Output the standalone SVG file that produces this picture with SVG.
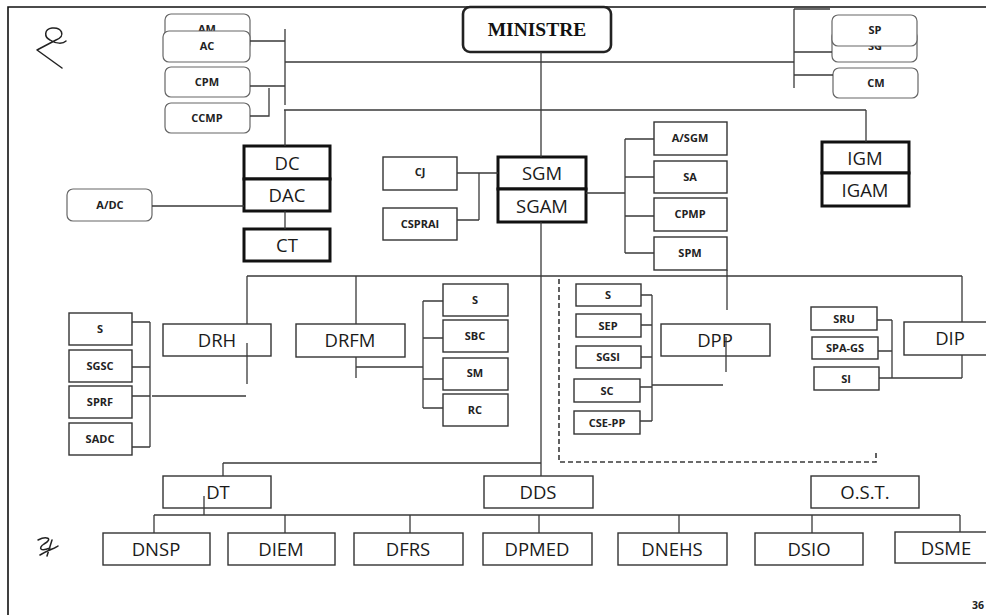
<svg xmlns="http://www.w3.org/2000/svg" width="986" height="615" viewBox="0 0 986 615">
<style>
.frame{fill:none;stroke:#111;stroke-width:1.6}
.c{fill:none;stroke:#3a3a3a;stroke-width:1.3}
.d{fill:none;stroke:#3a3a3a;stroke-width:1.6;stroke-dasharray:5,3}
.b{fill:#fff;stroke:#333;stroke-width:1.4}
.t{fill:#fff;stroke:#111;stroke-width:3}
.r{fill:#fff;stroke:#666;stroke-width:1.2}
.m{fill:#fff;stroke:#222;stroke-width:2.6}
.s{font-family:"Open Sans","Liberation Sans",sans-serif;font-weight:bold;font-size:11px;fill:#222;text-anchor:middle}
.L{font-family:"Open Sans","Liberation Sans",sans-serif;font-size:18.5px;fill:#1a1a1a;text-anchor:middle}
.sig{fill:none;stroke:#222;stroke-width:1.5;stroke-linecap:round;stroke-linejoin:round}
</style>
<rect x="0" y="0" width="986" height="615" fill="#fff"/>
<path class="frame" d="M8,615 V7 H986"/>
<path class="sig" d="M62,68 L37,50 L56,40 C66,36 62,27 52,28 C44,29 44,37 50,40 C56,44 63,44 66,41"/>
<path class="sig" d="M38,540 C46,536 54,538 44,544 C38,548 40,552 50,548 M40,555 C48,550 56,548 58,546 M52,540 L47,556"/>

<g id="ministre"><rect class="m" x="463" y="7" width="148" height="45" rx="7"/><text x="537" y="36" font-family="'Liberation Serif',serif" font-weight="bold" font-size="19.5" text-anchor="middle" fill="#111">MINISTRE</text></g>

<g id="AM"><rect class="r" x="165" y="14" width="85" height="36" rx="6"/><text class="s" x="207" y="33">AM</text></g>
<g id="AC"><rect class="r" x="163" y="31" width="87" height="31" rx="6"/><text class="s" x="207" y="50">AC</text></g>
<g id="CPM"><rect class="r" x="165" y="67" width="85" height="30" rx="6"/><text class="s" x="207" y="86">CPM</text></g>
<g id="CCMP"><rect class="r" x="165" y="103" width="85" height="30" rx="6"/><text class="s" x="207" y="122">CCMP</text></g>

<g id="SG"><rect class="r" x="832" y="30" width="85" height="32" rx="6"/><text class="s" x="875" y="49.5">SG</text></g>
<g id="SP"><rect class="r" x="832" y="15" width="85" height="31" rx="6"/><text class="s" x="875" y="34">SP</text></g>
<g id="CM"><rect class="r" x="833" y="68" width="85" height="30" rx="6"/><text class="s" x="876" y="87">CM</text></g>

<g id="DC"><rect class="t" x="244" y="146" width="86" height="33"/><text class="L" x="287" y="170">DC</text></g>
<g id="DAC"><rect class="t" x="244" y="179" width="86" height="32"/><text class="L" x="287" y="202">DAC</text></g>
<g id="CT"><rect class="t" x="244" y="229" width="86" height="32"/><text class="L" x="287" y="252">CT</text></g>
<g id="ADC"><rect class="r" x="67" y="189" width="85" height="32" rx="6"/><text class="s" x="110" y="209">A/DC</text></g>

<g id="CJ"><rect class="b" x="383" y="157" width="74" height="33"/><text class="s" x="420" y="176">CJ</text></g>
<g id="CSPRAI"><rect class="b" x="383" y="208" width="74" height="32"/><text class="s" x="420" y="228">CSPRAI</text></g>
<g id="SGM"><rect class="t" x="498" y="157" width="88" height="32"/><text class="L" x="542" y="180">SGM</text></g>
<g id="SGAM"><rect class="t" x="498" y="189" width="88" height="33"/><text class="L" x="542" y="213">SGAM</text></g>

<g id="ASGM"><rect class="b" x="654" y="122" width="73" height="33"/><text class="s" x="690" y="142">A/SGM</text></g>
<g id="SA"><rect class="b" x="654" y="161" width="73" height="32"/><text class="s" x="690" y="181">SA</text></g>
<g id="CPMP"><rect class="b" x="654" y="198" width="73" height="33"/><text class="s" x="690" y="218">CPMP</text></g>
<g id="SPM"><rect class="b" x="654" y="237" width="73" height="33"/><text class="s" x="690" y="257">SPM</text></g>

<g id="IGM"><rect class="t" x="822" y="142" width="87" height="31"/><text class="L" x="865" y="165">IGM</text></g>
<g id="IGAM"><rect class="t" x="822" y="173" width="87" height="33"/><text class="L" x="865" y="197">IGAM</text></g>

<g id="DRH"><rect class="b" x="163" y="324" width="108" height="32"/><text class="L" x="217" y="347">DRH</text></g>
<g id="S1"><rect class="b" x="69" y="313" width="63" height="32"/><text class="s" x="100" y="333">S</text></g>
<g id="SGSC"><rect class="b" x="69" y="350" width="63" height="32"/><text class="s" x="100" y="370">SGSC</text></g>
<g id="SPRF"><rect class="b" x="69" y="386" width="63" height="32"/><text class="s" x="100" y="406">SPRF</text></g>
<g id="SADC"><rect class="b" x="69" y="423" width="63" height="32"/><text class="s" x="100" y="443">SADC</text></g>

<g id="DRFM"><rect class="b" x="296" y="324" width="109" height="33"/><text class="L" x="350" y="347">DRFM</text></g>
<g id="S2"><rect class="b" x="443" y="284" width="65" height="32"/><text class="s" x="475" y="304">S</text></g>
<g id="SBC"><rect class="b" x="443" y="320" width="65" height="32"/><text class="s" x="475" y="340">SBC</text></g>
<g id="SM"><rect class="b" x="443" y="358" width="65" height="32"/><text class="s" x="475" y="377">SM</text></g>
<g id="RC"><rect class="b" x="443" y="394" width="65" height="32"/><text class="s" x="475" y="414">RC</text></g>

<g id="DPP"><rect class="b" x="661" y="324" width="109" height="32"/><text class="L" x="715" y="347">DPP</text></g>
<g id="S3"><rect class="b" x="576" y="284" width="65" height="22"/><text class="s" x="608" y="299">S</text></g>
<g id="SEP"><rect class="b" x="576" y="314" width="65" height="23"/><text class="s" x="608" y="330">SEP</text></g>
<g id="SGSI"><rect class="b" x="576" y="346" width="65" height="22"/><text class="s" x="608" y="361">SGSI</text></g>
<g id="SC"><rect class="b" x="574" y="379" width="66" height="23"/><text class="s" x="607" y="395">SC</text></g>
<g id="CSEPP"><rect class="b" x="574" y="411" width="66" height="23"/><text class="s" x="607" y="427">CSE-PP</text></g>

<g id="DIP"><rect class="b" x="904" y="322" width="90" height="33"/><text class="L" x="950" y="345">DIP</text></g>
<g id="SRU"><rect class="b" x="811" y="307" width="66" height="23"/><text class="s" x="844" y="323">SRU</text></g>
<g id="SPAGS"><rect class="b" x="812" y="337" width="66" height="22"/><text class="s" x="845" y="352">SPA-GS</text></g>
<g id="SI"><rect class="b" x="814" y="367" width="65" height="23"/><text class="s" x="846" y="383">SI</text></g>

<g id="DT"><rect class="b" x="163" y="476" width="108" height="32"/><text class="L" x="218" y="499">DT</text></g>
<g id="DDS"><rect class="b" x="484" y="476" width="109" height="32"/><text class="L" x="538" y="499">DDS</text></g>
<g id="OST"><rect class="b" x="811" y="476" width="108" height="32"/><text class="L" x="865" y="499">O.S.T.</text></g>

<g id="DNSP"><rect class="b" x="103" y="533" width="107" height="32"/><text class="L" x="156" y="556">DNSP</text></g>
<g id="DIEM"><rect class="b" x="228" y="533" width="107" height="32"/><text class="L" x="281" y="556">DIEM</text></g>
<g id="DFRS"><rect class="b" x="354" y="533" width="109" height="32"/><text class="L" x="408" y="556">DFRS</text></g>
<g id="DPMED"><rect class="b" x="483" y="533" width="109" height="32"/><text class="L" x="537" y="556">DPMED</text></g>
<g id="DNEHS"><rect class="b" x="618" y="533" width="109" height="32"/><text class="L" x="672" y="556">DNEHS</text></g>
<g id="DSIO"><rect class="b" x="755" y="533" width="108" height="32"/><text class="L" x="809" y="556">DSIO</text></g>
<g id="DSME"><rect class="b" x="895" y="532" width="100" height="31"/><text class="L" x="946" y="555">DSME</text></g>

<g id="connectors">
<path class="c" d="M541,52 V157 M285,62 H794 M285,29 V105 M250,41 H285 M250,86 H285 M250,116 H269 V88"/>
<path class="c" d="M794,9 V88 M794,9 H830 M794,52 H832 M794,75 H833"/>
<path class="c" d="M284,110 H866 M285,110 V146 M866,110 V142 M285,211 V229 M152,206 H244"/>
<path class="c" d="M457,173 H498 M479,173 V220 M457,220 H479"/>
<path class="c" d="M586,193 H625 M625,139 V253 M625,139 H654 M625,177 H654 M625,216 H654 M625,253 H654 M727,270 V310"/>
<path class="c" d="M541,222 V476 M247,276 H962 M247,276 V324 M356,276 V324 M962,276 V322 M962,355 V378 M879,378 H962 M892,320 V378 M877,320 H892 M878,351 H892"/>
<path class="c" d="M247,343 V384 M152,396 H246 M150,322 V447 M132,322 H150 M132,367 H150 M132,396 H150 M132,447 H150"/>
<path class="c" d="M356,357 V378 M356,367 H423 M423,301 V408 M423,301 H443 M423,338 H443 M423,379 H443 M423,408 H443"/>
<path class="c" d="M652,295 V421 M641,295 H652 M641,325 H652 M641,357 H652 M640,387 H652 M640,421 H652 M652,385 H723 M726,337 V372"/>
<path class="d" d="M559,279 V462 H876 V450"/>
<path class="c" d="M223,463 H541 M223,463 V476 M204,496 V515 M154,515 H960 M154,515 V533 M285,515 V533 M410,515 V533 M539,515 V533 M679,515 V533 M812,515 V533 M960,515 V532"/>
</g>
<text x="984" y="609" font-family="'Open Sans','Liberation Sans',sans-serif" font-weight="bold" font-size="10.5" text-anchor="end" fill="#222">36</text>
</svg>
